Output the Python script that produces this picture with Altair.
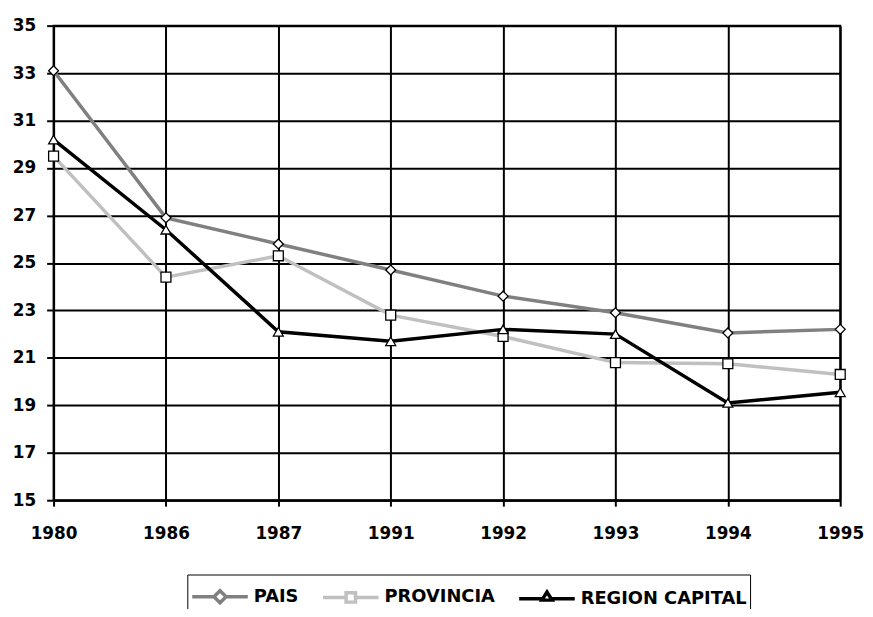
import altair as alt
import pandas as pd

years = ["1980", "1986", "1987", "1991", "1992", "1993", "1994", "1995"]
series = ["PAIS", "PROVINCIA", "REGION CAPITAL"]
pais = [33.1, 26.9, 25.8, 24.7, 23.6, 22.9, 22.05, 22.2]
provincia = [29.5, 24.4, 25.3, 22.8, 21.9, 20.8, 20.75, 20.3]
region = [30.2, 26.4, 22.1, 21.7, 22.2, 22.0, 19.1, 19.55]
y_ticks = list(range(15, 36, 2))
line_colors = ["#808080", "#c0c0c0", "#000000"]
line_widths = [3.5, 3.5, 6.5]
marker_shapes = ["diamond", "square", "triangle-up"]
legend_shapes = [
    "M-1.65,0L-0.36,0M0.36,0L1.65,0M-0.36,0L0,-0.36L0.36,0L0,0.36Z",
    "M-1.65,0L-0.28,0M0.28,0L1.65,0M-0.28,-0.28L0.28,-0.28L0.28,0.28L-0.28,0.28Z",
    "M-1.65,0L-0.3,0M0.3,0L1.65,0M-0.3,0.08L0,-0.4L0.3,0.08Z",
]

rows = []
for name, vals in zip(series, [pais, provincia, region]):
    for yr, v in zip(years, vals):
        rows.append({"anio": yr, "serie": name, "valor": v})
df = pd.DataFrame(rows)

FONT = "DejaVu Sans"

x_enc = alt.X("anio:O", sort=years, title=None,
              scale=alt.Scale(type="point", padding=0),
              axis=alt.Axis(labelAngle=0, grid=True, gridColor="black", gridWidth=2,
                            domainColor="black", domainWidth=2, tickColor="black",
                            tickWidth=2, tickSize=6, labelFontSize=17, labelFont=FONT,
                            labelFontWeight="bold", labelColor="black", labelPadding=20))
y_enc = alt.Y("valor:Q", title=None,
              scale=alt.Scale(domain=[15, 35], nice=False, zero=False),
              axis=alt.Axis(values=y_ticks, grid=True, gridColor="black", gridWidth=2,
                            domainColor="black", domainWidth=2, tickColor="black",
                            tickWidth=2, tickSize=7, labelFontSize=17, labelFont=FONT,
                            labelFontWeight="bold", labelColor="black", labelPadding=11))

legend = alt.Legend(title=None, orient="none", legendX=135, legendY=554,
                    direction="horizontal", strokeColor="black", padding=3,
                    symbolSize=1156, symbolOffset=11, labelFontSize=18,
                    labelFont=FONT, labelFontWeight="bold", labelColor="black",
                    columnPadding=16, labelOffset=15, labelLimit=400, cornerRadius=0,
                    symbolOpacity=1, symbolFillColor="white", labelBaseline="middle")

color = alt.Color("serie:N", sort=series,
                  scale=alt.Scale(domain=series, range=line_colors), legend=legend)
sw = alt.StrokeWidth("serie:N", sort=series,
                     scale=alt.Scale(domain=series, range=line_widths), legend=legend)
leg_shape = alt.Shape("serie:N", sort=series,
                      scale=alt.Scale(domain=series, range=legend_shapes), legend=legend)

lines = alt.Chart(df).mark_line().encode(x=x_enc, y=y_enc, color=color, strokeWidth=sw)

legend_layer = alt.Chart(df).mark_point(filled=False, opacity=0).encode(
    x=x_enc, y=y_enc, color=color, strokeWidth=sw, shape=leg_shape)

point_layers = []
for name, shp in zip(series, marker_shapes):
    point_layers.append(
        alt.Chart(df).transform_filter(alt.datum.serie == name).mark_point(
            shape=shp, filled=False, fill="white", fillOpacity=1, stroke="black",
            strokeWidth=1.3, opacity=1, size=100).encode(x=x_enc, y=y_enc)
    )

chart = alt.layer(lines, legend_layer, *point_layers).properties(
    width=794, height=479,
    autosize=alt.AutoSizeParams(type="none"),
    padding={"left": 46, "top": 15, "right": 25, "bottom": 107},
    background="white",
).configure_view(stroke="black", strokeWidth=2)

chart.save("out.html", embed_options={"renderer": "svg", "actions": False})
